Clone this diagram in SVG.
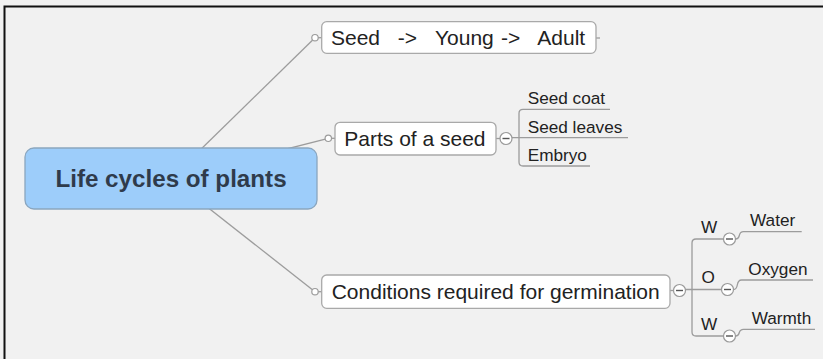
<svg xmlns="http://www.w3.org/2000/svg" width="823" height="359" viewBox="0 0 823 359">
  <style>
    .wire { fill: none; stroke: #9c9c9c; stroke-width: 1.3; }
    .box { fill: #ffffff; stroke: #a9a9a9; stroke-width: 1.3; }
    .dot { fill: #ffffff; stroke: #9c9c9c; stroke-width: 1.2; }
    .fold { fill: #ffffff; stroke: #9a9a9a; stroke-width: 1.2; }
    .minus { stroke: #555555; stroke-width: 1.4; }
    .t { font-family: "Liberation Sans", Arial, sans-serif; fill: #222222; }
    .big { font-size: 21px; }
    .small { font-size: 17.2px; }
    .root { font-family: "Liberation Sans", Arial, sans-serif; font-weight: bold; font-size: 24.2px; fill: #2f3b4b; }
  </style>

  <!-- canvas -->
  <rect x="0" y="0" width="823" height="359" fill="#f1f1f1"/>
  <path d="M4.5,359 V6.5 H823" fill="none" stroke="#111111" stroke-width="2"/>

  <!-- connectors -->
  <g id="connectors">
    <line class="wire" x1="171" y1="178.5" x2="315" y2="37.7"/>
    <line class="wire" x1="318" y1="37.7" x2="322" y2="37.7"/>
    <line class="wire" x1="171" y1="178.5" x2="328.3" y2="138.3"/>
    <line class="wire" x1="331.5" y1="138.3" x2="335" y2="138.3"/>
    <line class="wire" x1="171" y1="178.5" x2="315" y2="291.7"/>
    <line class="wire" x1="318.2" y1="291.7" x2="322" y2="291.7"/>
    <line class="wire" x1="596" y1="38" x2="600" y2="38"/>

    <!-- seed parts bracket -->
    <line class="wire" x1="496" y1="138.5" x2="500" y2="138.5"/>
    <path class="wire" d="M610,109.3 H523 Q519,109.3 519,113.3 V162 Q519,166 523,166 H590"/>
    <path class="wire" d="M512,137.7 H628"/>

    <!-- germination bracket -->
    <line class="wire" x1="670" y1="290.5" x2="673.5" y2="290.5"/>
    <path class="wire" d="M723.5,239 H696 Q692,239 692,243 V332 Q692,336 696,336 H723.5"/>
    <path class="wire" d="M685.5,289.5 H721.5"/>
    <path class="wire" d="M735.5,239 Q738.5,239 739.3,235.5 Q740.2,231.7 743.5,231.7 H801.7"/>
    <path class="wire" d="M733.5,289.5 Q736.5,289.5 737.3,285 Q738.2,280 741.5,280 H813"/>
    <path class="wire" d="M735.5,336 Q738.5,336 739.3,332.5 Q740.2,329.3 743.5,329.3 H815"/>

    <!-- attachment dots -->
    <circle class="dot" cx="315" cy="37.7" r="3.2"/>
    <circle class="dot" cx="328.3" cy="138.3" r="3.2"/>
    <circle class="dot" cx="315" cy="291.7" r="3.2"/>
  </g>

  <!-- central topic -->
  <g id="root">
    <rect x="25" y="148" width="292" height="61" rx="9" fill="#9dcdfa" stroke="#8aa6bf" stroke-width="1.3"/>
    <text class="root" x="171" y="186.5" text-anchor="middle">Life cycles of plants</text>
  </g>

  <!-- seed to adult -->
  <g id="stages">
    <rect class="box" x="321.7" y="21.7" width="274.3" height="31.6" rx="5"/>
    <text class="t big" y="44.5"><tspan x="331">Seed</tspan><tspan x="397.7">-&gt;</tspan><tspan x="435">Young</tspan><tspan x="501">-&gt;</tspan><tspan x="537.3">Adult</tspan></text>
  </g>

  <!-- parts of a seed -->
  <g id="parts">
    <rect class="box" x="335" y="122.3" width="161" height="32.7" rx="5"/>
    <text class="t big" x="344.3" y="145.5">Parts of a seed</text>
    <circle class="fold" cx="506" cy="138.5" r="6"/>
    <line class="minus" x1="502.5" y1="138.5" x2="509.5" y2="138.5"/>
  </g>
  <g id="seed-coat">
    <text class="t small" x="527.7" y="104.3">Seed coat</text>
  </g>
  <g id="seed-leaves">
    <text class="t small" x="527.7" y="133.3">Seed leaves</text>
  </g>
  <g id="embryo">
    <text class="t small" x="527.7" y="161.3">Embryo</text>
  </g>

  <!-- germination conditions -->
  <g id="conditions">
    <rect class="box" x="321.7" y="275" width="348.3" height="33.3" rx="5"/>
    <text class="t big" x="331.7" y="298.5">Conditions required for germination</text>
    <circle class="fold" cx="679.5" cy="290.5" r="6"/>
    <line class="minus" x1="676" y1="290.5" x2="683" y2="290.5"/>
  </g>
  <g id="water">
    <text class="t small" x="701" y="232.7">W</text>
    <circle class="fold" cx="729.5" cy="239" r="6"/>
    <line class="minus" x1="726" y1="239" x2="733" y2="239"/>
    <text class="t small" x="750" y="226">Water</text>
  </g>
  <g id="oxygen">
    <text class="t small" x="701.5" y="282.7">O</text>
    <circle class="fold" cx="727.5" cy="289.5" r="6"/>
    <line class="minus" x1="724" y1="289.5" x2="731" y2="289.5"/>
    <text class="t small" x="748.3" y="275">Oxygen</text>
  </g>
  <g id="warmth">
    <text class="t small" x="701" y="330">W</text>
    <circle class="fold" cx="729.5" cy="336" r="6"/>
    <line class="minus" x1="726" y1="336" x2="733" y2="336"/>
    <text class="t small" x="751.7" y="324">Warmth</text>
  </g>
</svg>
